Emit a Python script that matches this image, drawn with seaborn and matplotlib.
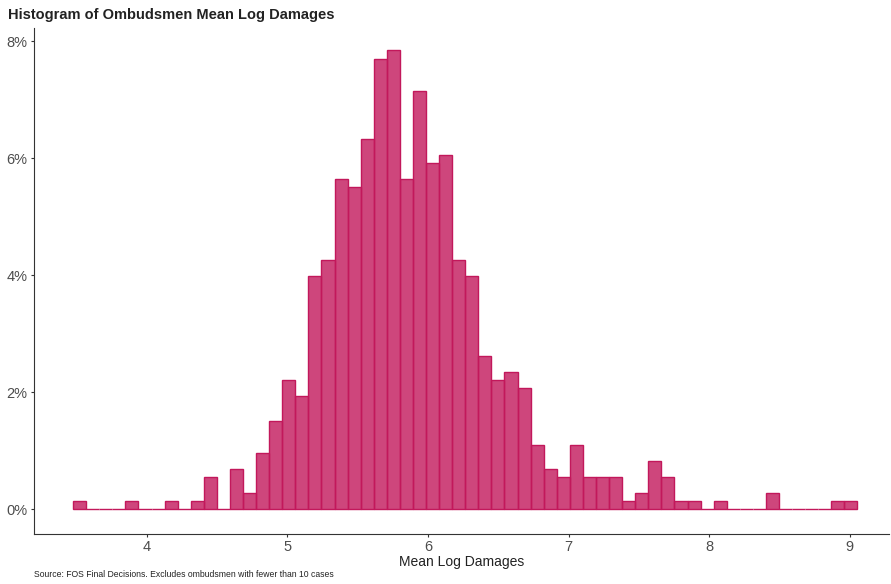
import numpy as np
import pandas as pd
import seaborn as sns
import matplotlib
matplotlib.use('Agg')
import matplotlib.pyplot as plt
from matplotlib.ticker import FuncFormatter

# Counts per bin (60 bins, 3.475 -> 9.053)
bin_start = 3.475
bin_width = 0.0930
counts = [1, 0, 0, 0, 1, 0, 0, 1, 0, 1,
          4, 0, 5, 2, 7, 11, 16, 14, 29, 31,
          41, 40, 46, 56, 57, 41, 52, 43, 44, 31,
          29, 19, 16, 17, 15, 8, 5, 4, 8, 4,
          4, 4, 1, 2, 6, 4, 1, 1, 0, 1,
          0, 0, 0, 2, 0, 0, 0, 0, 1, 1]
x_ticks = [4, 5, 6, 7, 8, 9]
y_ticks = [0, 2, 4, 6, 8]

n_bins = len(counts)
edges = bin_start + bin_width * np.arange(n_bins + 1)
df = pd.DataFrame({'mean_log_damages': (edges[:-1] + edges[1:]) / 2,
                   'n': counts})

sns.set_style('ticks')
plt.rcParams['font.family'] = ['Liberation Sans', 'DejaVu Sans']

fig = plt.figure(figsize=(8.91, 5.84), dpi=100)
ax = fig.add_axes([0.038, 0.0856, 0.96, 0.866])

sns.histplot(data=df, x='mean_log_damages', weights='n', bins=n_bins,
             binrange=(edges[0], edges[-1]),
             stat='percent', color='#C2185B', alpha=0.8,
             edgecolor='#C2185B', linewidth=1.0, ax=ax)

ax.set_xlim(3.196, 9.281)
ax.set_ylim(-0.427, 8.22)
ax.set_xticks(x_ticks)
ax.set_yticks(y_ticks)
ax.yaxis.set_major_formatter(FuncFormatter(lambda v, p: f'{v:.0f}%'))
ax.tick_params(labelsize=10.5, colors='#333333', length=2.5, width=0.8, pad=2)
ax.tick_params(axis='both', labelcolor='#4D4D4D')
for s in ['left', 'bottom']:
    ax.spines[s].set_color('#333333')
    ax.spines[s].set_linewidth(0.8)
sns.despine(ax=ax)

ax.set_xlabel('Mean Log Damages', fontsize=10, color='#222222', labelpad=0.5)
ax.set_ylabel('')

fig.text(0.009, 0.974, 'Histogram of Ombudsmen Mean Log Damages',
         fontsize=10.5, fontweight='bold', color='#222222', va='center')
fig.text(0.038, 0.017,
         'Source: FOS Final Decisions. Excludes ombudsmen with fewer than 10 cases',
         fontsize=6.2, color='#222222', va='center')

fig.savefig('out.png', dpi=100)
